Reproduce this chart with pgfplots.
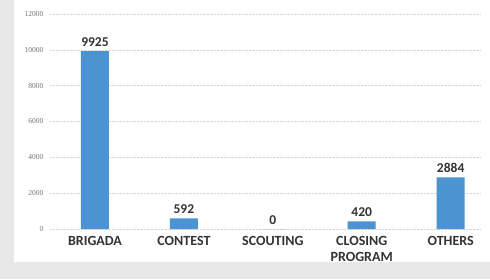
\documentclass[border=0pt]{standalone}
\usepackage{pgfplots}
\pgfplotsset{compat=1.18}
\usepackage{fontspec}
\setmainfont{Carlito}
\newfontfamily\tickfont{Liberation Serif}
\definecolor{barblue}{HTML}{4C93D2}
\definecolor{gridc}{HTML}{D6D6D6}
\definecolor{txt}{HTML}{333333}
\begin{document}
\begin{tikzpicture}[x=1pt,y=1pt]
\fill[black!9] (0,0) rectangle (490,279);
\fill[white] (14,17) rectangle (490,279);
\useasboundingbox (0,0) rectangle (490,279);
\begin{axis}[
  at={(50pt,50pt)}, anchor=south west,
  scale only axis, width=430pt, height=215pt,
  xmin=-0.506, xmax=4.33,
  ymin=0, ymax=12000,
  ytick={0,2000,4000,6000,8000,10000,12000},
  xtick={0,1,2,3,4},
  xticklabels={BRIGADA,CONTEST,SCOUTING,{CLOSING\\PROGRAM},OTHERS},
  xticklabel style={font=\fontsize{14}{16}\selectfont\bfseries, text=txt, align=center, anchor=north, yshift=-4pt},
  yticklabel style={font=\fontsize{7.5}{8}\selectfont\tickfont, text=black!55, xshift=-3pt},
  /pgf/number format/assume math mode=true,
  /pgf/number format/1000 sep={},
  scaled y ticks=false,
  axis line style={draw=none},
  major tick length=0pt,
  ymajorgrids, grid style={gridc, densely dotted, line width=0.6pt},
  ybar, bar width=28pt,
  nodes near coords,
  every node near coord/.append style={font=\fontsize{13.5}{14}\selectfont\bfseries, text=txt, yshift=1pt, /pgf/number format/1000 sep={}},
  clip=false,
]
\addplot[fill=barblue, draw=none] coordinates {(0,9925) (1,592) (2,0) (3,420) (4,2884)};
\end{axis}
\end{tikzpicture}
\end{document}
